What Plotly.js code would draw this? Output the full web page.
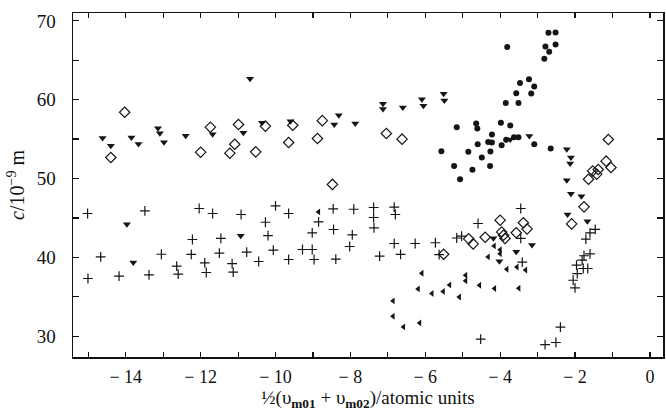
<!DOCTYPE html>
<html>
<head>
<meta charset="utf-8">
<script src="https://cdn.plot.ly/plotly-3.0.1.min.js"></script>
<style>html,body{margin:0;padding:0;background:#fff;}#chart{width:666px;height:412px;}</style>
</head>
<body>
<div id="chart"></div>
<script>
// Filled circles
const circleX = [-2.71,-2.52,-3.81,-2.79,-2.69,-2.52,-2.82,-3.47,-3.23,-3.09,-3.57,-3.17,-3.85,-3.51,-5.16,-4.64,-4.61,-3.98,-3.73,-4.22,-4.60,-4.32,-4.22,-3.96,-3.84,-3.63,-3.51,-3.09,-2.65,-5.57,-4.85,-4.26,-4.49,-5.23,-4.74,-4.27,-5.07];
const circleY = [68.48,68.53,66.70,66.75,66.07,67.00,65.20,62.13,62.58,61.68,60.82,60.79,59.58,59.58,56.51,56.98,56.35,57.06,56.74,55.58,54.33,54.64,54.57,54.23,54.92,55.22,55.22,54.33,53.81,53.46,53.38,53.43,52.66,51.60,51.12,51.59,49.91];
// Filled down-pointing triangles
const triDownX = [-14.62,-14.40,-13.85,-13.66,-13.14,-13.09,-12.98,-12.40,-11.68,-10.86,-10.68,-10.36,-9.60,-8.43,-8.31,-7.87,-7.13,-7.13,-6.60,-6.09,-6.05,-5.51,-5.49,-3.73,-3.22,-2.22,-2.11,-2.13,-2.22,-2.11,-1.83,-2.20,-1.67,-4.18,-4.02,-3.57,-3.15,-13.97,-13.80,-10.93];
const triDownY = [55.15,54.14,55.20,54.39,56.38,55.75,54.61,55.41,55.62,55.79,62.67,57.06,57.27,56.85,58.01,56.98,59.49,58.83,59.02,60.06,59.24,60.76,59.90,54.95,55.39,53.72,52.66,51.90,49.78,48.05,47.75,45.43,44.58,42.42,39.50,40.69,41.57,44.20,39.34,42.74];
// Open diamonds
const diamondX = [-14.40,-14.03,-12.00,-11.74,-11.22,-11.09,-10.99,-10.53,-10.27,-9.65,-9.54,-8.88,-8.75,-8.48,-7.04,-6.62,-1.11,-1.17,-1.04,-1.38,-1.53,-1.42,-1.64,-1.76,-2.09,-4.00,-3.96,-3.91,-3.87,-3.57,-3.38,-3.28,-4.40,-4.84,-4.72,-5.51];
const diamondY = [52.66,58.41,53.34,56.51,53.21,54.35,56.85,53.38,56.64,54.57,56.76,55.08,57.34,49.25,55.71,54.99,54.95,52.20,51.40,51.14,50.96,50.55,49.91,46.40,44.24,44.71,43.22,42.80,42.39,43.12,44.39,43.60,42.55,42.34,41.70,40.39];
// Plus signs
const plusX = [-15.02,-15.01,-14.67,-14.18,-13.49,-13.38,-13.05,-12.64,-12.60,-12.22,-12.25,-12.04,-11.89,-11.85,-11.68,-11.50,-11.46,-11.16,-11.13,-10.92,-10.77,-10.45,-10.27,-10.20,-10.06,-10.00,-9.65,-9.65,-9.28,-9.02,-9.02,-8.97,-8.85,-8.46,-8.45,-8.39,-8.02,-7.95,-7.91,-7.38,-7.38,-7.37,-7.22,-6.83,-6.80,-6.83,-6.66,-6.27,-5.73,-5.63,-5.16,-5.03,-4.59,-3.45,-3.45,-3.41,-4.52,-2.39,-2.80,-2.51,-1.46,-1.60,-1.71,-1.60,-1.76,-1.81,-1.78,-1.66,-1.96,-1.94,-2.05,-2.00];
const plusY = [45.56,37.31,40.05,37.60,45.89,37.77,40.39,38.87,37.86,42.26,40.36,46.19,39.29,38.07,45.56,40.52,42.39,39.21,38.11,45.43,40.65,39.47,44.45,42.74,40.90,46.52,45.56,39.72,40.99,40.99,43.10,39.72,44.49,46.14,43.53,39.78,41.37,42.84,46.10,46.32,45.05,43.73,40.14,46.36,45.43,41.75,40.37,41.75,41.85,40.33,42.45,42.68,44.29,46.19,42.39,39.38,29.61,31.13,28.91,29.19,43.54,43.10,42.30,40.43,40.20,39.63,38.58,38.58,39.00,37.94,37.09,36.12];
// Filled left-pointing triangles
const triLeftX = [-8.85,-6.09,-6.19,-5.82,-5.52,-6.86,-6.86,-6.58,-6.15,-5.35,-5.09,-4.92,-4.92,-4.55,-4.15,-3.50,-3.82,-3.55,-3.32,-4.32,-4.16,-4.00,-4.00];
const triLeftY = [45.76,37.98,35.99,35.41,35.66,34.47,32.53,31.17,31.68,36.50,34.97,37.73,37.03,36.46,36.04,36.08,38.49,38.78,38.40,40.05,41.45,40.96,40.46];

const xTickVals = [-14,-12,-10,-8,-6,-4,-2,0];
const xTickText = ['− 14','− 12','− 10','− 8','− 6','− 4','− 2','0'];
const yTickVals = [30,40,50,60,70];

const ink = '#151515';
const traces = [
  {x: circleX, y: circleY, mode:'markers', type:'scatter', marker:{symbol:'circle', size:6, color:ink}},
  {x: triDownX, y: triDownY, mode:'markers', type:'scatter', marker:{symbol:'triangle-down', size:7, color:ink}},
  {x: diamondX, y: diamondY, mode:'markers', type:'scatter', marker:{symbol:'diamond-open', size:8, color:ink, line:{width:1.2, color:ink}}},
  {x: plusX, y: plusY, mode:'markers', type:'scatter', marker:{symbol:'cross-thin-open', size:7, color:ink, line:{width:1.2, color:ink}}},
  {x: triLeftX, y: triLeftY, mode:'markers', type:'scatter', marker:{symbol:'triangle-left', size:6, color:ink}}
];

const fontFam = '"Liberation Serif", "DejaVu Serif", serif';
const layout = {
  width: 666, height: 412,
  margin: {l:73, r:3, t:13, b:55},
  paper_bgcolor:'#fff', plot_bgcolor:'#fff',
  showlegend:false,
  font:{family:fontFam, color:'#111', size:18},
  xaxis:{
    range:[-15.41, 0.35], showgrid:false, zeroline:false,
    showline:true, linecolor:'#111', linewidth:1.5, mirror:'ticks',
    ticks:'inside', ticklen:5, tickwidth:1.2, tickcolor:'#111',
    tickvals:xTickVals, ticktext:xTickText, tickfont:{family:fontFam, size:18, color:'#111'},
    ticklabelstandoff:3,
    minor:{dtick:1, tick0:0, ticks:'inside', ticklen:5, tickwidth:1.2, tickcolor:'#111', showgrid:false},
    title:{text:'½(υ<sub><b>m01</b></sub> + υ<sub><b>m02</b></sub>)/atomic units', font:{family:fontFam, size:19, color:'#111'}, standoff:4}
  },
  yaxis:{
    range:[27.35, 71.0], showgrid:false, zeroline:false,
    showline:true, linecolor:'#111', linewidth:1.5, mirror:'ticks',
    ticks:'inside', ticklen:6, tickwidth:1.2, tickcolor:'#111',
    tickvals:yTickVals, tickfont:{family:fontFam, size:19, color:'#111'},
    ticklabelstandoff:12,
    minor:{dtick:5, tick0:0, ticks:'inside', ticklen:6, tickwidth:1.2, tickcolor:'#111', showgrid:false},
    title:{text:'<i>c</i>/10<sup>−9</sup> m', font:{family:fontFam, size:20, color:'#111'}, standoff:6}
  }
};
Plotly.newPlot('chart', traces, layout, {displayModeBar:false, staticPlot:true});
</script>
</body>
</html>
